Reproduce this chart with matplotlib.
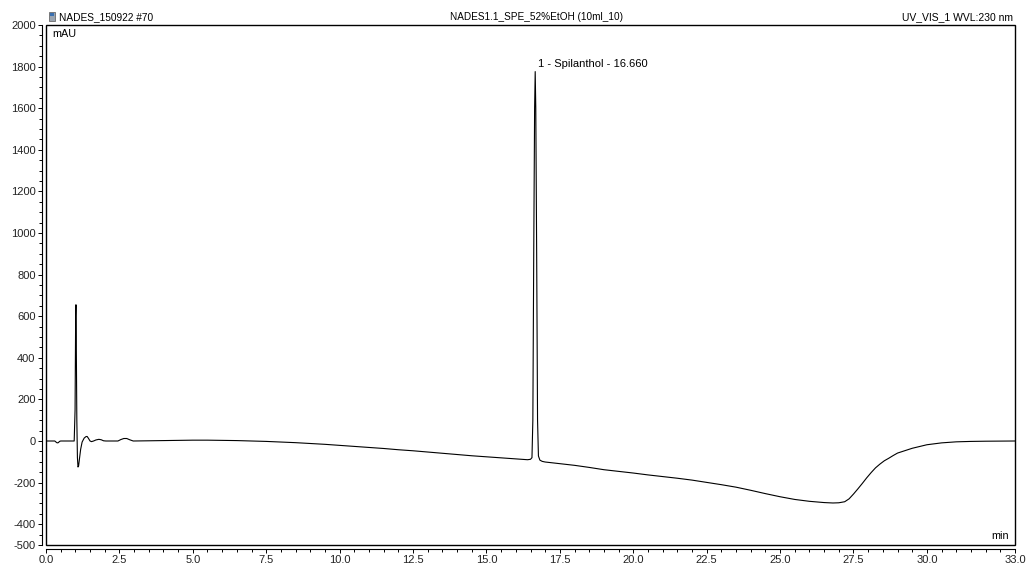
import matplotlib
matplotlib.use("Agg")
import matplotlib.pyplot as plt
from matplotlib.ticker import FixedLocator, MultipleLocator, FixedFormatter
from matplotlib.patches import Rectangle

# ---- data ----
time_min = [0.0, 0.30, 0.34, 0.38, 0.42, 0.46, 0.50, 0.96, 0.99, 1.01, 1.02, 1.03, 1.05, 1.07,
            1.09, 1.11, 1.14, 1.18, 1.23, 1.30, 1.36, 1.40, 1.44, 1.50, 1.55, 1.62, 1.70, 1.80,
            1.88, 1.96, 2.04, 2.45, 2.55, 2.65, 2.75, 2.85, 2.97, 3.5, 4.0, 4.5, 5.0, 5.5, 6.0,
            6.5, 7.0, 7.5, 8.0, 8.5, 9.0, 9.5, 10.0, 10.5, 11.0, 11.5, 12.0, 12.5, 13.0, 13.5,
            14.0, 14.5, 15.0, 15.5, 16.0, 16.40, 16.50, 16.55, 16.58, 16.61, 16.64, 16.66, 16.68,
            16.71, 16.74, 16.77, 16.82, 16.90, 17.0, 17.5, 18.0, 18.5, 19.0, 19.5, 20.0, 20.5,
            21.0, 21.5, 22.0, 22.5, 23.0, 23.5, 24.0, 24.5, 25.0, 25.5, 26.0, 26.5, 26.8, 27.0,
            27.2, 27.35, 27.5, 27.65, 27.8, 27.95, 28.1, 28.25, 28.4, 28.55, 28.7, 28.85, 29.0,
            29.5, 30.0, 30.5, 31.0, 31.5, 32.0, 33.0]
signal_mau = [0, 0, -5, -9, -8, -2, 0, 0, 150, 600, 655, 500, 100, -80,
              -125, -120, -85, -40, -5, 14, 21, 22, 14, 0, -3, 0, 5, 8,
              6, 1, 0, 0, 7, 12, 12, 6, 0, 1, 2, 3, 4, 4, 3,
              2, 0, -2, -5, -8, -12, -16, -21, -26, -31, -36, -42, -47, -53, -59,
              -65, -71, -76, -81, -86, -90, -88, -80, 100, 900, 1600, 1776, 1600,
              900, 100, -72, -92, -98, -101, -109, -117, -127, -138, -146, -154, -163,
              -171, -179, -188, -199, -210, -222, -237, -253, -268, -281, -290, -296, -298, -297,
              -292, -278, -255, -230, -204, -177, -152, -129, -111, -95, -83, -70, -58,
              -35, -18, -9, -4, -2, -1, 0]

peak_time = 16.66
peak_height = 1776
peak_label = "1 - Spilanthol - 16.660"

y_ticks = [-500, -400, -200, 0, 200, 400, 600, 800, 1000, 1200, 1400, 1600, 1800, 2000]
x_ticks = [0.0, 2.5, 5.0, 7.5, 10.0, 12.5, 15.0, 17.5, 20.0, 22.5, 25.0, 27.5, 30.0, 33.0]
x_tick_labels = ["0.0", "2.5", "5.0", "7.5", "10.0", "12.5", "15.0", "17.5", "20.0",
                 "22.5", "25.0", "27.5", "30.0", "33.0"]

title_left = "NADES_150922 #70"
title_center = "NADES1.1_SPE_52%EtOH (10ml_10)"
title_right = "UV_VIS_1 WVL:230 nm"

plt.rcParams['font.family'] = ['Liberation Sans', 'DejaVu Sans']
plt.rcParams['axes.unicode_minus'] = False

W, H = 1026, 565
fig = plt.figure(figsize=(W / 100, H / 100), dpi=100)
L, R, T, B = 46, 1015, 25, 545
ax = fig.add_axes([L / W, (H - B) / H, (R - L) / W, (B - T) / H])

ax.plot(time_min, signal_mau, color='black', lw=0.8, solid_joinstyle='round')
ax.set_xlim(0, 33)
ax.set_ylim(-500, 2000)

for s in ['top', 'right']:
    ax.spines[s].set_visible(False)
for s in ['left', 'bottom']:
    ax.spines[s].set_position(('outward', 3))
    ax.spines[s].set_linewidth(0.8)
ax.add_patch(Rectangle((0, 0), 1, 1, transform=ax.transAxes, fill=False,
                       edgecolor='black', lw=1.0, clip_on=False))

ax.yaxis.set_major_locator(FixedLocator(y_ticks))
ax.yaxis.set_minor_locator(MultipleLocator(50))
ax.xaxis.set_major_locator(FixedLocator(x_ticks))
ax.xaxis.set_major_formatter(FixedFormatter(x_tick_labels))
ax.xaxis.set_minor_locator(MultipleLocator(0.5))
ax.tick_params(axis='both', which='major', length=3, width=0.7, labelsize=8,
               colors='black', labelcolor='#222222', pad=1.5)
ax.tick_params(axis='both', which='minor', length=2.5, width=0.7)

fig.text(52 / W, 1 - 37 / H, "mAU", fontsize=7.8, ha='left', va='baseline')
fig.text(1009 / W, 1 - 539 / H, "min", fontsize=7.8, ha='right', va='baseline')

fig.text(59 / W, 1 - 20.5 / H, title_left, fontsize=7.3, ha='left', va='baseline')
fig.text(537 / W, 1 - 20.5 / H, title_center, fontsize=7.2, ha='center', va='baseline')
fig.text(1013 / W, 1 - 20.5 / H, title_right, fontsize=7.5, ha='right', va='baseline')
# small document icon
fig.patches.append(Rectangle((49 / W, 1 - 21 / H), 6 / W, 9 / H, transform=fig.transFigure,
                             facecolor='#9aa4b0', edgecolor='#555555', lw=0.5))
fig.patches.append(Rectangle((50 / W, 1 - 16 / H), 4 / W, 3 / H, transform=fig.transFigure,
                             facecolor='#3a6fb0', edgecolor='none'))

ax.annotate(peak_label, xy=(peak_time, peak_height), xytext=(2, 3.5),
            textcoords='offset points', fontsize=8, ha='left', va='baseline')

fig.savefig("out.png", dpi=100)
